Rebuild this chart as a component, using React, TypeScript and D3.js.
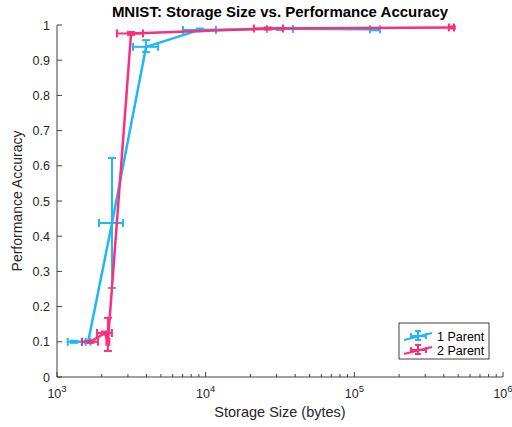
import React from "react";
import * as d3 from "d3";

// 1 Parent series
const p1X = [1300, 1620, 2345, 3975, 9120, 31600, 137700];
const p1Y = [0.1, 0.1, 0.4375, 0.938, 0.986, 0.989, 0.988];
const p1XLo = [1180, 1560, 1916, 3245, 7030, 25800, 127400];
const p1XHi = [1470, 1680, 2781, 4773, 11720, 38600, 148600];
const p1YLo = [0.097, 0.097, 0.253, 0.923, 0.982, 0.986, 0.985];
const p1YHi = [0.103, 0.103, 0.622, 0.957, 0.99, 0.992, 0.991];

// 2 Parent series
const p2X = [1680, 2100, 2200, 3150, 26200, 453000];
const p2Y = [0.1, 0.125, 0.1, 0.976, 0.99, 0.993];
const p2XLo = [1473, 1860, 2150, 2530, 21100, 432000];
const p2XHi = [1886, 2340, 2250, 3786, 33100, 468000];
const p2YLo = [0.097, 0.121, 0.074, 0.972, 0.987, 0.99];
const p2YHi = [0.103, 0.129, 0.168, 0.98, 0.993, 0.996];

const xTickExps = [3, 4, 5, 6];
const yTicks = [0, 0.1, 0.2, 0.3, 0.4, 0.5, 0.6, 0.7, 0.8, 0.9, 1];
const seriesNames = ["1 Parent", "2 Parent"];
const colors = ["#21b6f4", "#fb2f7b"];

const W = 512, H = 427;
const L = 57, R = 503, T = 25, B = 377;
const font = "'Liberation Sans', Arial, sans-serif";
const axisColor = "#404040";
const textColor = "#262626";

export default function App() {
  const x = d3.scaleLog().domain([1e3, 1e6]).range([L, R]);
  const y = d3.scaleLinear().domain([0, 1]).range([B, T]);
  const line = d3.line<[number, number]>().x(d => x(d[0])).y(d => y(d[1]));

  const minor: number[] = [];
  for (let e = 3; e < 6; e++) for (let m = 2; m <= 9; m++) minor.push(m * Math.pow(10, e));

  const series = [
    { X: p1X, Y: p1Y, XL: p1XLo, XH: p1XHi, YL: p1YLo, YH: p1YHi },
    { X: p2X, Y: p2Y, XL: p2XLo, XH: p2XHi, YL: p2YLo, YH: p2YHi },
  ];
  const cap = 4;

  return (
    <svg width={W} height={H} style={{ position: "absolute", left: 0, top: 0, background: "#fff" }}>
      {/* axes */}
      <line x1={L} y1={B} x2={R} y2={B} stroke={axisColor} strokeWidth={1} />
      <line x1={L} y1={B} x2={L} y2={T} stroke={axisColor} strokeWidth={1} />
      {yTicks.map(t => (
        <g key={"y" + t}>
          <line x1={L} x2={L + 5} y1={y(t)} y2={y(t)} stroke={axisColor} />
          <text x={L - 7} y={y(t) + 4.5} textAnchor="end" fontFamily={font} fontSize={12.5} fill={textColor}>{String(t)}</text>
        </g>
      ))}
      {xTickExps.map(e => (
        <g key={"x" + e}>
          <line x1={x(Math.pow(10, e))} x2={x(Math.pow(10, e))} y1={B} y2={B - 5} stroke={axisColor} />
          <text x={x(Math.pow(10, e))} y={B + 21} textAnchor="middle" fontFamily={font} fontSize={12.5} fill={textColor}>
            10<tspan dy={-6} fontSize={9.5}>{e}</tspan>
          </text>
        </g>
      ))}
      {minor.map(m => (
        <line key={"m" + m} x1={x(m)} x2={x(m)} y1={B} y2={B - 3} stroke={axisColor} />
      ))}
      {/* series */}
      {series.map((s, si) => {
        const c = colors[si];
        const pts: [number, number][] = s.X.map((v, i) => [v, s.Y[i]]);
        return (
          <g key={"s" + si}>
            <path d={line(pts) || ""} fill="none" stroke={c} strokeWidth={2.5} strokeLinejoin="round" />
            {s.X.map((v, i) => {
              const cx = x(v), cy = y(s.Y[i]);
              const xl = x(s.XL[i]), xh = x(s.XH[i]);
              const yl = y(s.YL[i]), yh = y(s.YH[i]);
              return (
                <g key={i} stroke={c} strokeWidth={2}>
                  <line x1={cx} x2={cx} y1={yl} y2={yh} />
                  <line x1={cx - cap} x2={cx + cap} y1={yl} y2={yl} />
                  <line x1={cx - cap} x2={cx + cap} y1={yh} y2={yh} />
                  <line x1={xl} x2={xh} y1={cy} y2={cy} />
                  <line x1={xl} x2={xl} y1={cy - cap} y2={cy + cap} />
                  <line x1={xh} x2={xh} y1={cy - cap} y2={cy + cap} />
                </g>
              );
            })}
          </g>
        );
      })}
      {/* title & labels */}
      <text x={(L + R) / 2} y={17} textAnchor="middle" fontFamily={font} fontSize={15} fontWeight="bold" fill="#000">
        MNIST: Storage Size vs. Performance Accuracy
      </text>
      <text x={(L + R) / 2} y={417} textAnchor="middle" fontFamily={font} fontSize={14.5} fill={textColor}>
        Storage Size (bytes)
      </text>
      <text transform={`translate(22,${(T + B) / 2}) rotate(-90)`} textAnchor="middle" fontFamily={font} fontSize={14} fill={textColor}>
        Performance Accuracy
      </text>
      {/* legend */}
      <rect x={399} y={323} width={90} height={36} fill="#fff" stroke={axisColor} strokeWidth={1} />
      {seriesNames.map((n, i) => {
        const cy = 336 + i * 14;
        const c = colors[i];
        return (
          <g key={n}>
            <g stroke={c} strokeWidth={2}>
              <line x1={404} y1={cy + 4} x2={432} y2={cy - 3} />
              <line x1={418} x2={418} y1={cy - 5} y2={cy + 4} />
              <line x1={415} x2={421} y1={cy - 5} y2={cy - 5} />
              <line x1={415} x2={421} y1={cy + 4} y2={cy + 4} />
              <line x1={411} x2={426} y1={cy} y2={cy} />
              <line x1={411} x2={411} y1={cy - 3} y2={cy + 3} />
              <line x1={426} x2={426} y1={cy - 3} y2={cy + 3} />
            </g>
            <text x={437} y={cy + 4.5} fontFamily={font} fontSize={12.5} fill="#000">{n}</text>
          </g>
        );
      })}
    </svg>
  );
}
